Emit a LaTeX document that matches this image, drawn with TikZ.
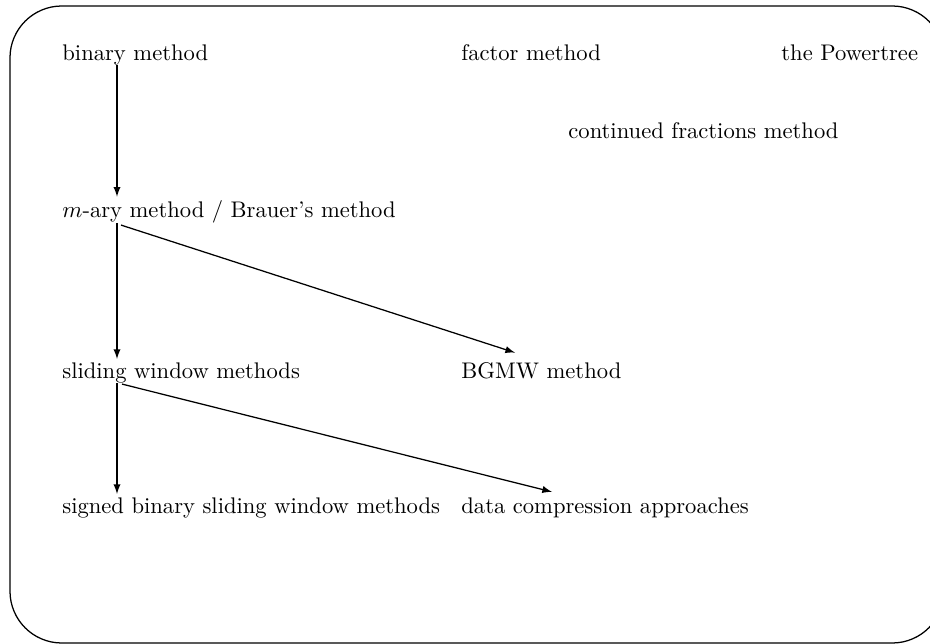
\documentclass[tikz,border=0pt]{standalone}
\usetikzlibrary{calc}
\begin{document}
\begin{tikzpicture}[x=0.0168cm, y=-0.0168cm, >=latex]

    % パラメータの定義
    \pgfmathsetmacro{\W}{930}
    \pgfmathsetmacro{\H}{644}

    \useasboundingbox (0,0) rectangle (\W,\H);
    \clip (0,0) rectangle (\W,\H);

    \tikzset{item/.style={anchor=base west, inner sep=0pt, font=\fontsize{10.8pt}{13pt}\selectfont}}

    % 枠の描画
    \draw [semithick, rounded corners=0.87cm] (10,6) rectangle (944,643);

    % 項目の配置
    \node[item] (binary) at (62,60) {binary method};
    \node[item] (factor) at (461,60) {factor method};
    \node[item] (powertree) at (781,60) {the Powertree};
    \node[item] (contfrac) at (568,138) {continued fractions method};
    \node[item] (mary) at (62,217) {$m$-ary method / Brauer's method};
    \node[item] (sliding) at (62,378) {sliding window methods};
    \node[item] (bgmw) at (461,378) {BGMW method};
    \node[item] (signed) at (62,513) {signed binary sliding window methods};
    \node[item] (datacomp) at (461,513) {data compression approaches};

    % 矢印の描画
    \draw [semithick, ->] ($(binary.south west)+(55,0)$) -- ($(mary.north west)+(55,-3)$);
    \draw [semithick, ->] ($(mary.south west)+(55,0)$) -- ($(sliding.north west)+(55,-3)$);
    \draw [semithick, ->] ($(sliding.south west)+(55,0)$) -- ($(signed.north west)+(55,-3)$);
    \draw [semithick, ->] ($(mary.south west)+(59,2)$) -- ($(bgmw.north west)+(54,-9)$);
    \draw [semithick, ->] ($(sliding.south west)+(60,1)$) -- ($(datacomp.north west)+(91,-5)$);

\end{tikzpicture}
\end{document}
